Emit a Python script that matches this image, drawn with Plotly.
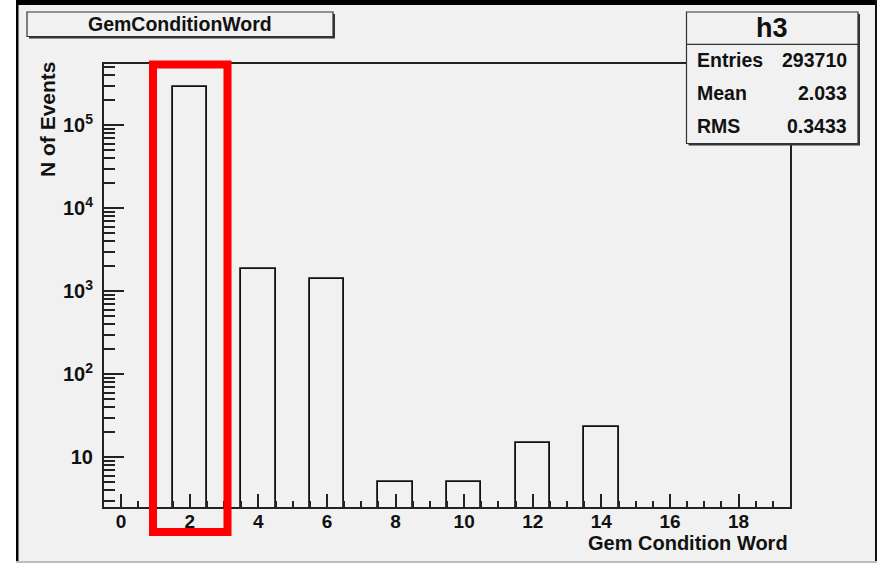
import plotly.graph_objects as go

# ---- data ----
bin_centers = list(range(0, 20))
counts = [0, 0, 290400, 0, 1840, 0, 1395, 0, 5, 0, 5, 0, 15, 0, 23, 0, 0, 0, 0, 0]
x_tickvals = [0, 2, 4, 6, 8, 10, 12, 14, 16, 18]
y_tickvals = [10, 100, 1000, 10000, 100000]
y_ticktext = ["10", "10<sup>2</sup>", "10<sup>3</sup>", "10<sup>4</sup>", "10<sup>5</sup>"]
y_minor = [m * 10 ** d for d in range(0, 6) for m in range(2, 10)]
stats_labels = ["Entries", "Mean", "RMS"]
stats_values = ["293710", "2.033", "0.3433"]
hist_name = "h3"
title_text = "GemConditionWord"
x_title = "Gem Condition Word"
y_title = "N of Events"

W, H = 877, 563
FONT = "Liberation Sans"
BG = "#f1f1f1"
AX = "#222222"
TXT = "#111111"

def px(x):
    return x / W

def py(y):
    return 1 - y / H

L, R, T, B = 104, 790, 64, 507

fig = go.Figure()
fig.add_trace(go.Bar(
    x=bin_centers, y=counts, width=1.0,
    marker=dict(color="rgba(0,0,0,0)", line=dict(color="#111111", width=1.8)),
    hoverinfo="skip", showlegend=False,
))
# invisible trace to carry minor-tick overlay axis
fig.add_trace(go.Scatter(x=[0], y=[10], yaxis="y2", mode="markers",
                         marker=dict(opacity=0), hoverinfo="skip", showlegend=False))

ydom = [py(B), py(T)]
yr = [0.401, 5.739]
fig.update_layout(
    width=W, height=H, autosize=False,
    margin=dict(l=0, r=0, t=0, b=0),
    paper_bgcolor="white", plot_bgcolor="rgba(0,0,0,0)",
    font=dict(family=FONT, color=TXT),
    bargap=0,
    xaxis=dict(
        domain=[px(L), px(R)], range=[-0.5, 19.5],
        tickmode="array", tickvals=x_tickvals,
        ticks="inside", ticklen=13, tickwidth=1.6, tickcolor=AX,
        minor=dict(dtick=0.5, tick0=0, ticks="inside", ticklen=6, tickwidth=1.6, tickcolor=AX, showgrid=False),
        showline=True, linecolor=AX, linewidth=2, mirror=True,
        showgrid=False, zeroline=False,
        tickfont=dict(family=FONT, size=19, weight="bold", color=TXT),
        ticklabelstandoff=-4,
    ),
    yaxis=dict(
        domain=ydom, type="log", range=yr,
        tickmode="array", tickvals=y_tickvals, ticktext=y_ticktext,
        ticks="inside", ticklen=20, tickwidth=1.6, tickcolor=AX,
        showline=True, linecolor=AX, linewidth=2, mirror=True,
        showgrid=False, zeroline=False,
        tickfont=dict(family=FONT, size=20, weight="bold", color=TXT),
        ticklabelstandoff=5,
    ),
    yaxis2=dict(
        domain=ydom, type="log", range=yr, overlaying="y", anchor="x",
        tickmode="array", tickvals=y_minor,
        ticks="inside", ticklen=11, tickwidth=1.6, tickcolor=AX,
        showticklabels=False, showgrid=False, zeroline=False, showline=False,
    ),
)

shapes = []
# canvas background and window frame
shapes.append(dict(type="rect", xref="paper", yref="paper", x0=px(16), x1=1, y0=0, y1=1,
                   fillcolor=BG, line=dict(width=0), layer="below"))
shapes.append(dict(type="rect", xref="paper", yref="paper", x0=px(16), x1=1, y0=py(5), y1=1,
                   fillcolor="black", line=dict(width=0), layer="below"))
shapes.append(dict(type="rect", xref="paper", yref="paper", x0=px(16), x1=px(18.5), y0=0, y1=1,
                   fillcolor="black", line=dict(width=0), layer="below"))
shapes.append(dict(type="rect", xref="paper", yref="paper", x0=px(875), x1=1, y0=0, y1=1,
                   fillcolor="#111111", line=dict(width=0), layer="below"))
shapes.append(dict(type="rect", xref="paper", yref="paper", x0=px(16), x1=1, y0=0, y1=py(561),
                   fillcolor="#bdbdbd", line=dict(width=0), layer="below"))

# title box with shadow
shapes.append(dict(type="rect", xref="paper", yref="paper", x0=px(29), x1=px(335), y0=py(38.5), y1=py(14),
                   fillcolor="#333333", line=dict(width=0)))
shapes.append(dict(type="rect", xref="paper", yref="paper", x0=px(27), x1=px(333), y0=py(36.5), y1=py(12),
                   fillcolor=BG, line=dict(color="#333333", width=1.2)))
# stats box with shadow
shapes.append(dict(type="rect", xref="paper", yref="paper", x0=px(688.5), x1=px(860), y0=py(145.5), y1=py(14),
                   fillcolor="#333333", line=dict(width=0)))
shapes.append(dict(type="rect", xref="paper", yref="paper", x0=px(686.5), x1=px(858), y0=py(143.5), y1=py(12),
                   fillcolor=BG, line=dict(color="#333333", width=1.2)))
shapes.append(dict(type="line", xref="paper", yref="paper", x0=px(686.5), x1=px(858), y0=py(44.3), y1=py(44.3),
                   line=dict(color="#333333", width=1.2)))
# red highlight rectangle
shapes.append(dict(type="rect", xref="paper", yref="paper", x0=px(153), x1=px(227.5), y0=py(532), y1=py(64.5),
                   fillcolor="rgba(0,0,0,0)", line=dict(color="#ff0000", width=8)))
fig.update_layout(shapes=shapes)

ann = []
ann.append(dict(xref="paper", yref="paper", x=px(180), y=py(24), text=title_text, showarrow=False,
                xanchor="center", yanchor="middle", font=dict(family=FONT, size=19.5, weight="bold", color=TXT)))
ann.append(dict(xref="paper", yref="paper", x=px(772), y=py(28), text=hist_name, showarrow=False,
                xanchor="center", yanchor="middle", font=dict(family=FONT, size=27, weight="bold", color=TXT)))
for i, (lab, val) in enumerate(zip(stats_labels, stats_values)):
    yy = [60, 93, 126][i]
    ann.append(dict(xref="paper", yref="paper", x=px(695), y=py(yy), text=lab, showarrow=False,
                    xanchor="left", yanchor="middle", font=dict(family=FONT, size=19.5, weight="bold", color=TXT)))
    ann.append(dict(xref="paper", yref="paper", x=px(849), y=py(yy), text=val, showarrow=False,
                    xanchor="right", yanchor="middle", font=dict(family=FONT, size=19.5, weight="bold", color=TXT)))
ann.append(dict(xref="paper", yref="paper", x=px(790), y=py(543), text=x_title, showarrow=False,
                xanchor="right", yanchor="middle", font=dict(family=FONT, size=20, weight="bold", color=TXT)))
ann.append(dict(xref="paper", yref="paper", x=px(47), y=py(119), text=y_title, showarrow=False, textangle=-90,
                xanchor="center", yanchor="middle", font=dict(family=FONT, size=21, weight="bold", color=TXT)))
fig.update_layout(annotations=ann)

fig.write_html("out.html")
